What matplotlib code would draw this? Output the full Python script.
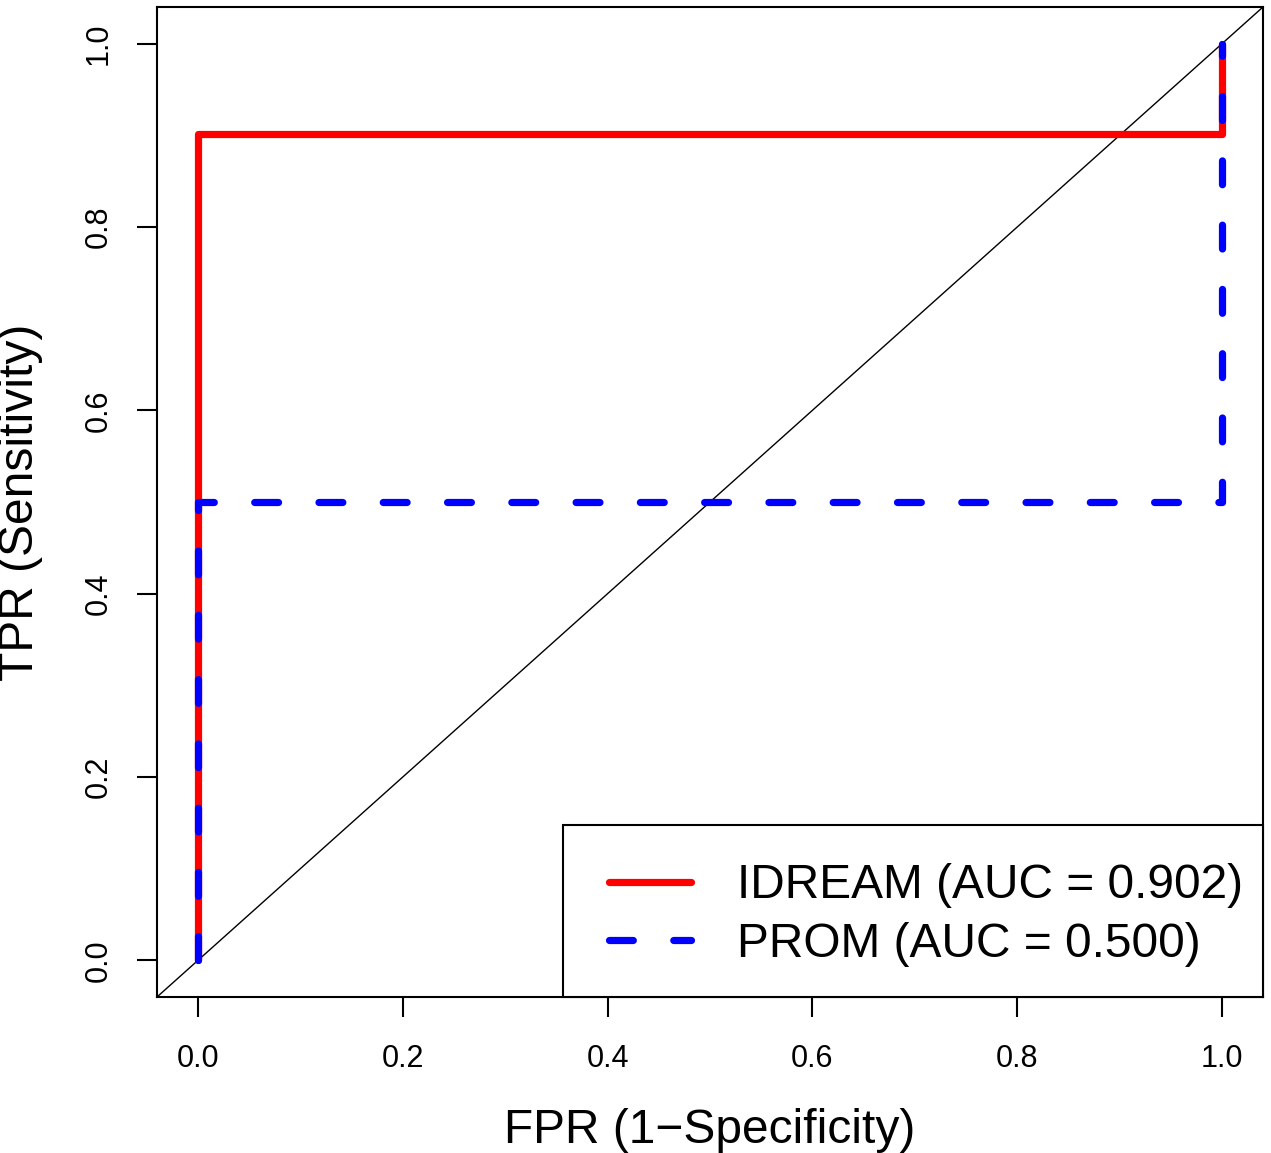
import numpy as np
import matplotlib
matplotlib.use("Agg")
import matplotlib.pyplot as plt
from matplotlib.patches import Rectangle

plt.rcParams['font.family'] = ['Liberation Sans', 'DejaVu Sans']

# ROC curve points (FPR, TPR)
idream_fpr = [0.0, 0.0, 1.0, 1.0]
idream_tpr = [0.0, 0.902, 0.902, 1.0]
prom_fpr = [0.0, 0.0, 1.0, 1.0]
prom_tpr = [0.0, 0.5, 0.5, 1.0]
labels = ["IDREAM (AUC = 0.902)", "PROM (AUC = 0.500)"]
ticks = [0.0, 0.2, 0.4, 0.6, 0.8, 1.0]

W, H = 1271, 1153
fig = plt.figure(figsize=(W / 100, H / 100), dpi=100)
ax = fig.add_axes([157 / W, 1 - 997 / H, (1263 - 157) / W, (997 - 7) / H])

ax.set_xlim(-0.04, 1.04)
ax.set_ylim(-0.04, 1.04)

# diagonal reference
ax.plot([-0.04, 1.04], [-0.04, 1.04], color='black', lw=1.0, zorder=1)

ax.plot(idream_fpr, idream_tpr, color='red', lw=5.2, solid_capstyle='round',
        solid_joinstyle='round', label=labels[0], zorder=2)
ln, = ax.plot(prom_fpr, prom_tpr, color='blue', lw=5.2, dash_capstyle='round',
              dash_joinstyle='round', label=labels[1], zorder=3)
ln.set_dashes((3.3, 5.6))

for s in ax.spines.values():
    s.set_linewidth(1.5)

ax.set_xticks(ticks)
ax.set_yticks(ticks)
ax.set_xticklabels([f"{t:.1f}" for t in ticks])
ax.set_yticklabels([f"{t:.1f}" for t in ticks], rotation=90, va='center')
ax.tick_params(axis='both', length=14.5, width=1.5, labelsize=22, direction='out')
ax.tick_params(axis='x', pad=19)
ax.tick_params(axis='y', pad=17)

ax.set_xlabel("FPR (1\u2212Specificity)", fontsize=34.5, labelpad=25)
ax.set_ylabel("TPR (Sensitivity)", fontsize=34.5, labelpad=29)

# legend box, R style (flush with bottom-right corner)
ax_w, ax_h = 1263 - 157, 997 - 7
ax.add_patch(Rectangle(((563 - 157) / ax_w, 0), (1263 - 563) / ax_w, (997 - 825) / ax_h,
                       transform=ax.transAxes, facecolor='white', edgecolor='black',
                       lw=1.5, zorder=4, clip_on=False))
leg = ax.legend(loc='center left', bbox_to_anchor=((608.5 - 157) / ax_w, (997 - 915) / ax_h),
                fontsize=34.5, frameon=False, borderaxespad=0, borderpad=0,
                handlelength=1.73, handletextpad=0.95, labelspacing=0.275)
leg.set_zorder(5)

fig.savefig("out.png", dpi=100)
